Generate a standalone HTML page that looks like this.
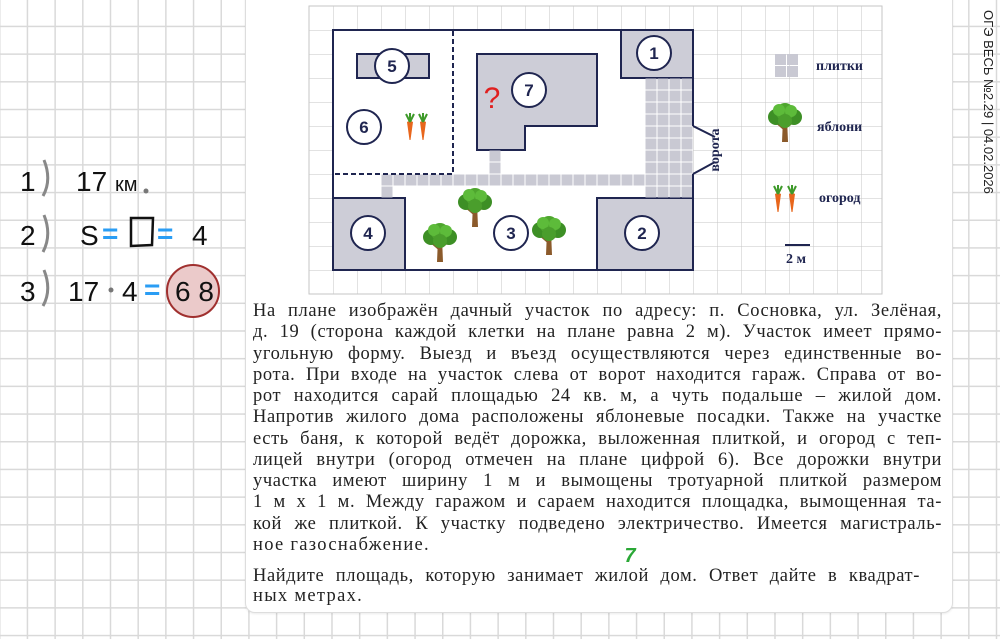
<!DOCTYPE html>
<html><head><meta charset="utf-8"><style>
html,body{margin:0;padding:0}
body{width:1000px;height:639px;overflow:hidden;position:relative;background:#fff;
background-image:linear-gradient(to right,#d9d9d9 1.5px,transparent 1.5px),linear-gradient(to bottom,#d9d9d9 1.5px,transparent 1.5px);
background-size:27.7px 27.7px;background-position:-1px -2px;font-family:"Liberation Serif",serif}
#card{position:absolute;left:245px;top:-12px;width:706px;height:623px;background:#fff;border:1px solid #ddd;border-radius:10px;box-shadow:0 1px 2px rgba(0,0,0,.08)}
.t{position:absolute;left:253px;width:689px;font-size:18.5px;letter-spacing:1.3px;color:#222;white-space:nowrap;line-height:21px}
.j{text-align:justify;text-align-last:justify;white-space:normal;letter-spacing:0.6px}
.hw{position:absolute;font-family:"Liberation Sans",sans-serif;font-size:28px;color:#111;line-height:1}
.bl{color:#2a9df4;font-weight:bold}
#side{position:absolute;left:976px;top:10px;transform-origin:0 0;transform:translate(20px,0) rotate(90deg);font-family:"Liberation Sans",sans-serif;font-size:13px;color:#222;white-space:nowrap}
</style></head><body>
<div id="card"></div>
<svg style="position:absolute;left:0;top:0" width="1000" height="639">
<defs>
<pattern id="g" x="309" y="6" width="24" height="24" patternUnits="userSpaceOnUse"><path d="M0 0H24M0 0V24" stroke="#c6c6c6" stroke-width="1" fill="none"/></pattern>
<symbol id="tree" viewBox="0 0 36 40" width="36" height="40" overflow="visible">
<path d="M16 14 L15 38 L21 38 L20 14 Z" fill="#8b5a2b"/>
<path d="M18 26 L11 20 M18 24 L25 19" stroke="#8b5a2b" stroke-width="2"/>
<circle cx="9" cy="13" r="8" fill="#3d8f25"/><circle cx="27" cy="13" r="8" fill="#3d8f25"/>
<circle cx="18" cy="8" r="9" fill="#4ea52e"/><circle cx="12" cy="6" r="6" fill="#5dbb3a"/><circle cx="24" cy="7" r="6" fill="#5dbb3a"/>
<circle cx="18" cy="17" r="7" fill="#4a9e2c"/>
</symbol>
<symbol id="car" viewBox="0 0 12 28" width="12" height="28" overflow="visible">
<path d="M3 10 Q6 8 9 10 L6.5 28 L5.5 28 Z" fill="#e8661c"/>
<path d="M6 10 L2 2 M6 10 L6 1 M6 10 L10 2" stroke="#3e9a2a" stroke-width="2" fill="none"/>
</symbol>
</defs>
<rect x="309" y="6" width="573" height="288" fill="url(#g)" stroke="#c6c6c6"/>
<rect x="333" y="30" width="360" height="240" fill="#fff"/>
<g fill="#cdcdd7" stroke="#1f2550" stroke-width="2">
<rect x="357" y="54" width="72" height="24"/>
<path d="M477 54H597V126H525V150H477Z"/>
<rect x="621" y="30" width="72" height="48"/>
<rect x="333" y="198" width="72" height="72"/>
<rect x="597" y="198" width="96" height="72"/>
</g>
<g fill="#c9c9d3" id="tiles"></g>
<path d="M693 126V30H333V270H693V174" fill="none" stroke="#1f2550" stroke-width="2"/>
<path d="M693 126L715 137M693 174L715 162" stroke="#1f2550" stroke-width="2"/>
<path d="M453 31V174H334" stroke="#1f2550" stroke-width="2" stroke-dasharray="5,3" fill="none"/>
<g fill="#fff" stroke="#1f2550" stroke-width="2">
<circle cx="392" cy="66" r="17"/><circle cx="364" cy="127" r="17"/><circle cx="529" cy="90" r="17"/>
<circle cx="654" cy="53" r="17"/><circle cx="368" cy="233" r="17"/><circle cx="642" cy="233" r="17"/><circle cx="511" cy="233" r="17"/>
</g>
<g font-family="Liberation Sans,sans-serif" font-weight="bold" font-size="17" fill="#1f2550" text-anchor="middle">
<text x="392" y="72">5</text><text x="364" y="133">6</text><text x="529" y="96">7</text><text x="654" y="59">1</text>
<text x="368" y="239">4</text><text x="642" y="239">2</text><text x="511" y="239">3</text>
</g>
<text x="492" y="108" font-family="Liberation Sans,sans-serif" font-size="30" fill="#e02020" text-anchor="middle">?</text>
<use href="#tree" x="457" y="189"/><use href="#tree" x="422" y="224"/><use href="#tree" x="531" y="217"/>
<use href="#tree" x="767" y="104"/>
<use href="#car" x="404" y="112"/><use href="#car" x="417" y="112"/>
<use href="#car" x="772" y="184"/><use href="#car" x="786" y="184"/>
<g fill="#c9c9d3"><rect x="775" y="54" width="11" height="11"/><rect x="787" y="54" width="11" height="11"/><rect x="775" y="66" width="11" height="11"/><rect x="787" y="66" width="11" height="11"/></g>
<g font-family="Liberation Serif,serif" font-weight="bold" font-size="14" fill="#1f2550">
<text x="816" y="70">плитки</text><text x="817" y="131">яблони</text><text x="819" y="202">огород</text><text x="786" y="263">2 м</text>
<text transform="translate(719,150) rotate(-90)" text-anchor="middle">ворота</text>
</g>
<path d="M785 245H810" stroke="#1f2550" stroke-width="2"/>
<circle cx="193" cy="291" r="26" fill="#ebcaca" stroke="#a0302f" stroke-width="2"/>
<circle cx="146" cy="191" r="2.5" fill="#777"/>
<circle cx="111" cy="290" r="2.5" fill="#777"/>
<path d="M131 218L153 218L152 245L131 246Z" fill="none" stroke="#111" stroke-width="2.5"/>
<path d="M44 160Q52 180 43 196M44 215Q52 235 43 252M44 270Q52 290 43 306" stroke="#888" stroke-width="3" fill="none"/>
<text x="630" y="562" font-family="Liberation Sans,sans-serif" font-weight="bold" font-style="italic" font-size="20" fill="#2aa836" text-anchor="middle">7</text>
</svg>
<div class="hw" style="left:20px;top:168px">1</div>
<div class="hw" style="left:76px;top:168px">17 <span style="font-size:20px">км</span></div>
<div class="hw" style="left:20px;top:222px">2</div>
<div class="hw" style="left:80px;top:222px">S</div><div class="hw bl" style="left:102px;top:220px">=</div>
<div class="hw bl" style="left:157px;top:220px">=</div><div class="hw" style="left:192px;top:222px">4</div>
<div class="hw" style="left:20px;top:278px">3</div>
<div class="hw" style="left:68px;top:278px">17</div><div class="hw" style="left:122px;top:278px">4</div>
<div class="hw bl" style="left:144px;top:276px">=</div><div class="hw" style="left:175px;top:278px">6 8</div>
<div id="side">ОГЭ ВЕСЬ №2.29 | 04.02.2026</div>
<div class="t j" style="top:301px">На плане изображён дачный участок по адресу: п. Сосновка, ул. Зелёная,</div>
<div class="t j" style="top:322px">д. 19 (сторона каждой клетки на плане равна 2 м). Участок имеет прямо-</div>
<div class="t j" style="top:344px">угольную форму. Выезд и въезд осуществляются через единственные во-</div>
<div class="t j" style="top:365px">рота. При входе на участок слева от ворот находится гараж. Справа от во-</div>
<div class="t j" style="top:386px">рот находится сарай площадью 24 кв. м, а чуть подальше – жилой дом.</div>
<div class="t j" style="top:407px">Напротив жилого дома расположены яблоневые посадки. Также на участке</div>
<div class="t j" style="top:429px">есть баня, к которой ведёт дорожка, выложенная плиткой, и огород с теп-</div>
<div class="t j" style="top:450px">лицей внутри (огород отмечен на плане цифрой 6). Все дорожки внутри</div>
<div class="t j" style="top:471px">участка имеют ширину 1 м и вымощены тротуарной плиткой размером</div>
<div class="t j" style="top:492px">1 м х 1 м. Между гаражом и сараем находится площадка, вымощенная та-</div>
<div class="t j" style="top:514px">кой же плиткой. К участку подведено электричество. Имеется магистраль-</div>
<div class="t" style="top:535px">ное газоснабжение.</div>
<div class="t" style="top:566px;width:667px;text-align:justify;text-align-last:justify;white-space:normal;letter-spacing:0.6px">Найдите площадь, которую занимает жилой дом. Ответ дайте в квадрат-</div>
<div class="t" style="top:586px">ных метрах.</div>
<script>
(function(){var g=document.getElementById('tiles'),s='';
function t(x,y){s+='<rect x="'+(x+0.5)+'" y="'+(y+0.5)+'" width="11" height="11"/>';}
for(var c=0;c<4;c++)for(var r=0;r<10;r++)t(645+c*12,78+r*12);
for(var i=0;i<22;i++)t(381+i*12,174);
t(381,186);t(489,150);t(489,162);
g.innerHTML=s;})();
</script>
</body></html>
